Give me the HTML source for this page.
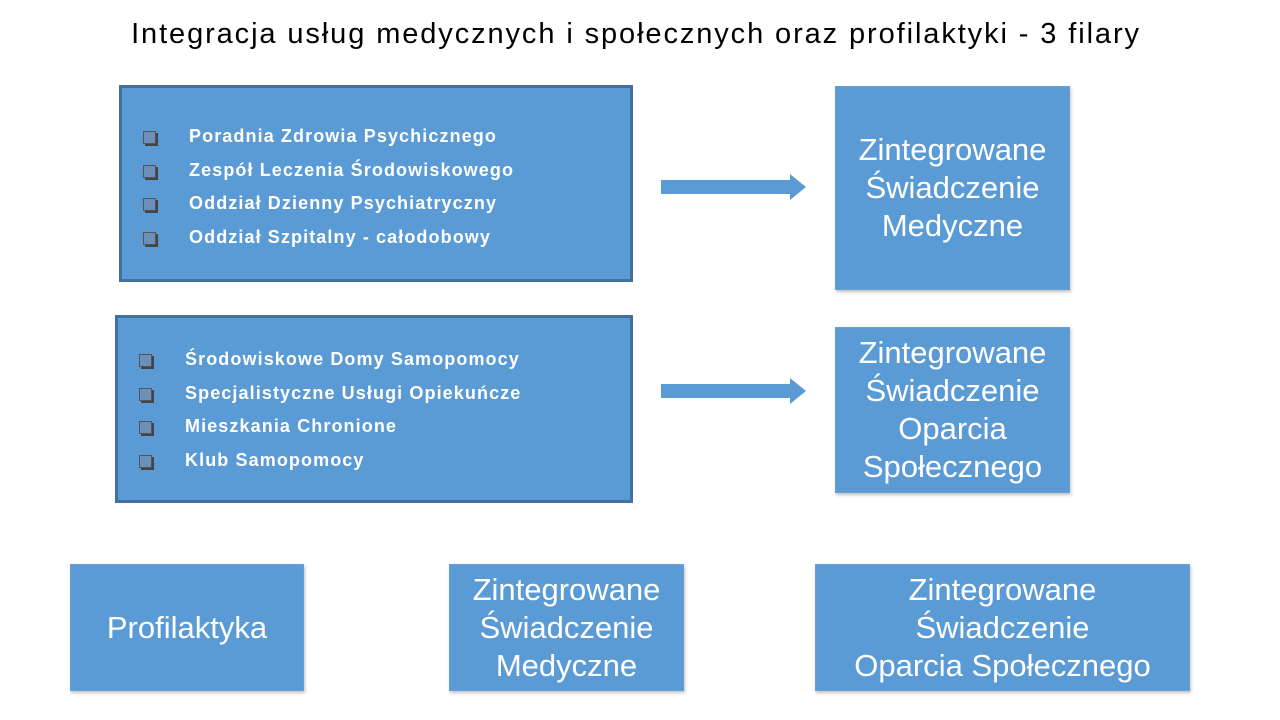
<!DOCTYPE html>
<html><head><meta charset="utf-8"><style>
body{margin:0;width:1280px;height:720px;background:#fff;position:relative;overflow:hidden;font-family:"Liberation Sans",sans-serif}
.b{position:absolute;background:#5b9bd5;border:2px solid #41719c;box-sizing:border-box;color:#fff;display:flex;align-items:center;justify-content:center;text-align:center;font-size:31px;line-height:38px;white-space:nowrap}
.s{border:1px solid #6a9fd0;box-shadow:1px 2px 3px rgba(0,0,0,.25)}
.l{position:absolute;color:#fff;font-weight:bold;font-size:18px;line-height:33.5px;letter-spacing:1.1px}
.l div{position:relative;padding-left:0}
.l div:before{content:"";position:absolute;width:11px;height:11px;border:1px solid #555;background:#6a8fb8;box-shadow:2px 2px 0 #444;left:-46px;top:11px}
.ar{position:absolute}
</style></head><body>
<div style="position:absolute;top:18px;left:0;width:1272px;text-align:center;font-size:29px;letter-spacing:1.9px;">Integracja usług medycznych i społecznych oraz profilaktyki - 3 filary</div>
<div class="b" style="left:119px;top:85px;width:514px;height:197px;border-width:3px"></div>
<div class="l" style="left:189px;top:120px"><div>Poradnia Zdrowia Psychicznego</div><div>Zespół Leczenia Środowiskowego</div><div>Oddział Dzienny Psychiatryczny</div><div>Oddział Szpitalny - całodobowy</div></div>
<div class="b" style="left:115px;top:315px;width:518px;height:188px;border-width:3px"></div>
<div class="l" style="left:185px;top:343px"><div>Środowiskowe Domy Samopomocy</div><div>Specjalistyczne Usługi Opiekuńcze</div><div>Mieszkania Chronione</div><div>Klub Samopomocy</div></div>
<svg class="ar" style="left:660px;top:172px" width="150" height="30"><polygon points="1,8 130,8 130,2 146,15 130,28 130,22 1,22" fill="#5b9bd5"/></svg>
<svg class="ar" style="left:660px;top:376px" width="150" height="30"><polygon points="1,8 130,8 130,2 146,15 130,28 130,22 1,22" fill="#5b9bd5"/></svg>
<div class="b s" style="left:835px;top:86px;width:235px;height:204px">Zintegrowane<br>Świadczenie<br>Medyczne</div>
<div class="b s" style="left:835px;top:327px;width:235px;height:166px">Zintegrowane<br>Świadczenie<br>Oparcia<br>Społecznego</div>
<div class="b s" style="left:70px;top:564px;width:234px;height:127px">Profilaktyka</div>
<div class="b s" style="left:449px;top:564px;width:235px;height:127px">Zintegrowane<br>Świadczenie<br>Medyczne</div>
<div class="b s" style="left:815px;top:564px;width:375px;height:127px">Zintegrowane<br>Świadczenie<br>Oparcia Społecznego</div>
</body></html>
